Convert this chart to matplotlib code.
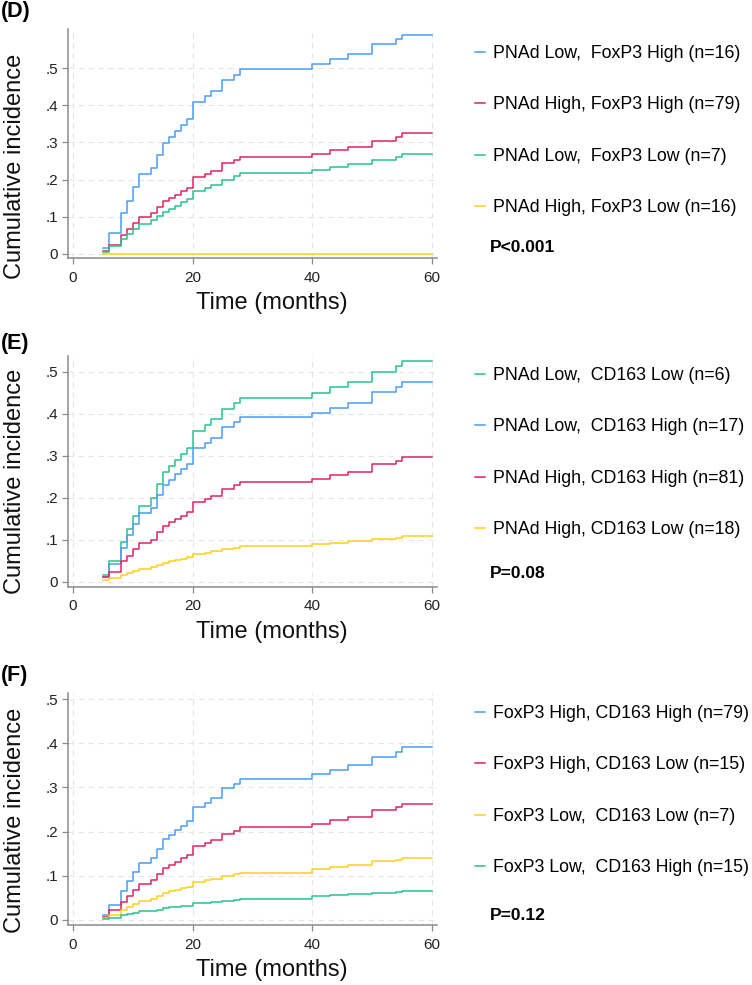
import matplotlib
matplotlib.use("Agg")
import matplotlib.pyplot as plt
from matplotlib.ticker import FuncFormatter

plt.rcParams['font.family'] = ['Liberation Sans', 'DejaVu Sans']

# shared event times (months); the last value is held until 60
times = [5, 6, 8, 9, 10, 11, 13, 14, 15, 16, 17, 18, 19, 20, 22, 23, 25, 27, 28,
         40, 43, 46, 50, 54, 55]
t_end = 60

BLUE = '#4a9cf6'
RED = '#e0245e'
GREEN = '#27c48a'
YELLOW = '#ffcf1a'

# Panel D: PNAd x FoxP3
d_labels = ["PNAd Low,  FoxP3 High (n=16)", "PNAd High, FoxP3 High (n=79)",
            "PNAd Low,  FoxP3 Low (n=7)", "PNAd High, FoxP3 Low (n=16)"]
d_blue = [0.016, 0.055, 0.109, 0.143, 0.179, 0.214, 0.231, 0.265, 0.298, 0.314,
          0.331, 0.347, 0.364, 0.408, 0.424, 0.440, 0.469, 0.483, 0.498,
          0.512, 0.524, 0.539, 0.565, 0.579, 0.591]
d_red = [0.007, 0.025, 0.050, 0.067, 0.084, 0.100, 0.109, 0.126, 0.143, 0.151,
         0.159, 0.168, 0.177, 0.206, 0.214, 0.223, 0.244, 0.253, 0.262,
         0.270, 0.280, 0.289, 0.305, 0.316, 0.325]
d_green = [0.005, 0.020, 0.040, 0.054, 0.066, 0.081, 0.090, 0.101, 0.112, 0.122,
           0.130, 0.140, 0.149, 0.170, 0.177, 0.185, 0.200, 0.209, 0.217,
           0.225, 0.233, 0.241, 0.253, 0.262, 0.270]
d_yellow = [0.0] * 25
d_p = "P<0.001"

# Panel E: PNAd x CD163
e_labels = ["PNAd Low,  CD163 Low (n=6)", "PNAd Low,  CD163 High (n=17)",
            "PNAd High, CD163 High (n=81)", "PNAd High, CD163 Low (n=18)"]
e_green = [0.016, 0.050, 0.095, 0.125, 0.155, 0.180, 0.200, 0.232, 0.260, 0.275,
           0.289, 0.303, 0.317, 0.359, 0.372, 0.386, 0.411, 0.425, 0.438,
           0.450, 0.462, 0.475, 0.500, 0.512, 0.524]
e_blue = [0.012, 0.042, 0.080, 0.110, 0.137, 0.163, 0.176, 0.205, 0.229, 0.242,
          0.255, 0.267, 0.280, 0.319, 0.330, 0.342, 0.367, 0.379, 0.391,
          0.402, 0.414, 0.426, 0.451, 0.462, 0.474]
e_red = [0.010, 0.024, 0.048, 0.062, 0.077, 0.091, 0.100, 0.117, 0.133, 0.141,
         0.149, 0.157, 0.166, 0.189, 0.196, 0.204, 0.220, 0.229, 0.237,
         0.244, 0.253, 0.262, 0.279, 0.288, 0.296]
e_yellow = [0.004, 0.008, 0.015, 0.020, 0.026, 0.031, 0.034, 0.039, 0.045, 0.048,
            0.051, 0.055, 0.058, 0.065, 0.068, 0.072, 0.078, 0.081, 0.085,
            0.089, 0.093, 0.097, 0.101, 0.104, 0.109]
e_p = "P=0.08"

# Panel F: FoxP3 x CD163
f_labels = ["FoxP3 High, CD163 High (n=79)", "FoxP3 High, CD163 Low (n=15)",
            "FoxP3 Low,  CD163 Low (n=7)", "FoxP3 Low,  CD163 High (n=15)"]
f_blue = [0.011, 0.034, 0.066, 0.087, 0.108, 0.129, 0.140, 0.161, 0.182, 0.192,
          0.203, 0.213, 0.224, 0.255, 0.265, 0.276, 0.298, 0.308, 0.318,
          0.330, 0.340, 0.350, 0.370, 0.381, 0.391]
f_red = [0.006, 0.021, 0.040, 0.054, 0.068, 0.082, 0.090, 0.103, 0.118, 0.124,
         0.131, 0.139, 0.146, 0.167, 0.174, 0.180, 0.195, 0.202, 0.210,
         0.218, 0.226, 0.234, 0.248, 0.256, 0.263]
f_yellow = [0.004, 0.011, 0.021, 0.029, 0.035, 0.043, 0.047, 0.054, 0.060, 0.064,
            0.068, 0.072, 0.075, 0.086, 0.089, 0.093, 0.100, 0.104, 0.107,
            0.116, 0.120, 0.124, 0.133, 0.136, 0.141]
f_green = [0.002, 0.005, 0.010, 0.013, 0.016, 0.019, 0.020, 0.023, 0.026, 0.028,
           0.029, 0.031, 0.032, 0.037, 0.038, 0.040, 0.043, 0.044, 0.046,
           0.054, 0.056, 0.058, 0.061, 0.063, 0.065]
f_p = "P=0.12"

panels = [
    # tag, series, colors, labels, p, axes rect, ytop, ylabel y, legend y, p y, tag y (fig px)
    ("(D)", [d_blue, d_red, d_green, d_yellow], [BLUE, RED, GREEN, YELLOW], d_labels, d_p,
     [0.090, 0.7378, 0.491, 0.2328], 0.606, 0.40, 53, 247, 12),
    ("(E)", [e_green, e_blue, e_red, e_yellow], [GREEN, BLUE, RED, YELLOW], e_labels, e_p,
     [0.090, 0.4044, 0.491, 0.2342], 0.537, 0.455, 375, 574, 343),
    ("(F)", [f_blue, f_red, f_yellow, f_green], [BLUE, RED, YELLOW, GREEN], f_labels, f_p,
     [0.090, 0.0609, 0.491, 0.2355], 0.514, 0.45, 713, 915, 676),
]

W, H = 752, 985
fig = plt.figure(figsize=(W / 100, H / 100), dpi=100)


def fmt_y(v, pos):
    if abs(v) < 1e-9:
        return "0"
    return ("%.1f" % v).lstrip("0")


for tag, series, colors, labels, ptxt, rect, ytop, ylab_y, leg_y, p_y, tag_y in panels:
    ax = fig.add_axes(rect)
    handles = []
    for vals, c, lab in zip(series, colors, labels):
        xs = times + [t_end]
        ys = vals + [vals[-1]]
        h, = ax.step(xs, ys, where='post', color=c, lw=1.1, label=lab)
        handles.append(h)
    ax.set_xlim(-0.85, 60.8)
    ax.set_ylim(-0.012, ytop)
    ax.set_xticks([0, 20, 40, 60])
    ax.set_yticks([0, 0.1, 0.2, 0.3, 0.4, 0.5])
    ax.yaxis.set_major_formatter(FuncFormatter(fmt_y))
    ax.grid(True, color='#e6e6e6', ls=(0, (5, 4)), lw=0.8)
    ax.set_axisbelow(True)
    for s in ['top', 'right']:
        ax.spines[s].set_visible(False)
    for s in ['left', 'bottom']:
        ax.spines[s].set_color('#8a8a8a')
        ax.spines[s].set_linewidth(1.1)
    ax.tick_params(colors='#8a8a8a', labelcolor='#222222', labelsize=11, length=4, width=0.9)
    ax.tick_params(axis='y', pad=3)
    ax.tick_params(axis='x', pad=5)
    ax.set_ylabel("Cumulative incidence", fontsize=17, color='#111111')
    ax.yaxis.set_label_coords(-0.113, ylab_y)
    ax.set_xlabel("Time (months)", fontsize=17, color='#111111')
    ax.xaxis.set_label_coords(0.554, -0.148)

    fig.text(1 / W, 1 - tag_y / H, tag, fontsize=15.5, fontweight='bold', va='center', ha='left')

    fig.legend(handles=handles, loc='upper left',
               bbox_to_anchor=(475 / W, 1 - (leg_y - 8) / H),
               frameon=False, fontsize=12.8, handlelength=0.55, handletextpad=0.45,
               labelspacing=1.94, borderaxespad=0, borderpad=0)
    fig.text(490 / W, 1 - p_y / H, ptxt, fontsize=12.5, fontweight='bold', va='center', ha='left')

fig.savefig("out.png", dpi=100, facecolor='white')
